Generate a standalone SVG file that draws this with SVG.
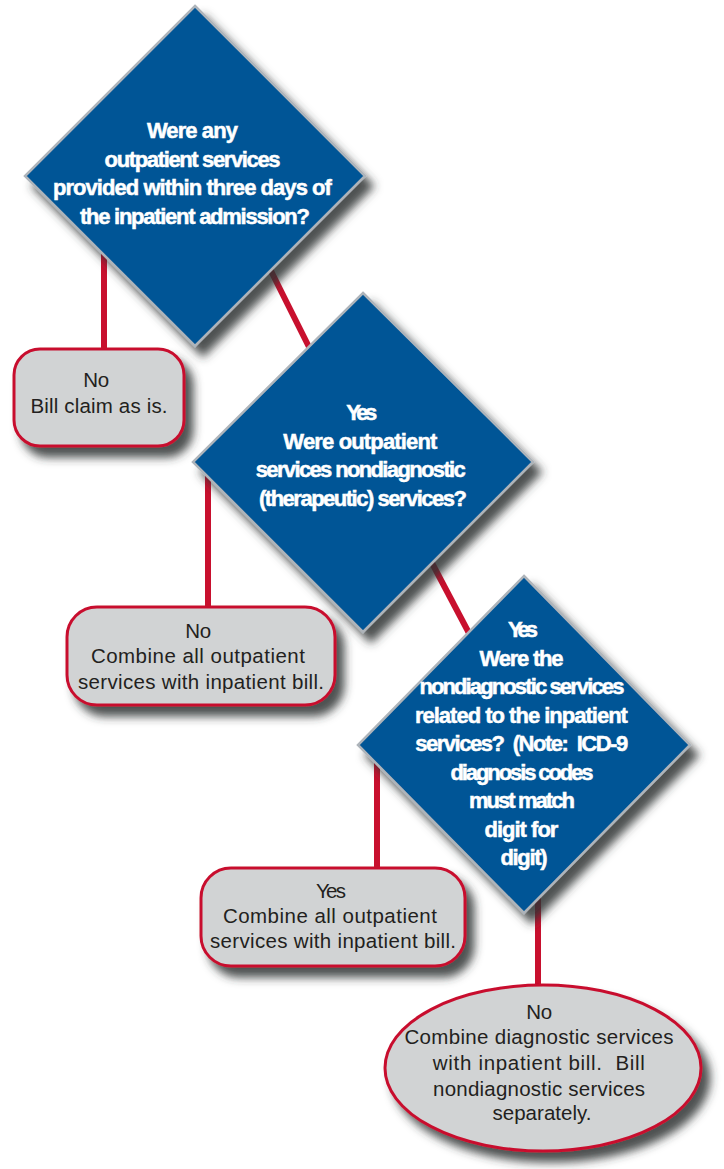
<svg xmlns="http://www.w3.org/2000/svg" width="724" height="1169" viewBox="0 0 724 1169">
<defs>
<filter id="sh" x="-20%" y="-20%" width="150%" height="150%">
<feDropShadow dx="8" dy="10" stdDeviation="5" flood-color="#2f3133" flood-opacity="0.85"/>
</filter>
<style>
.dia{fill:#005496;stroke:#aeb4ba;stroke-width:2.5;filter:url(#sh)}
.box{fill:#d1d3d4;stroke:#c8102e;stroke-width:3;filter:url(#sh)}
.con{stroke:#c8102e;stroke-width:6;fill:none}
.qt{font-family:"Liberation Sans Narrow","Liberation Sans",sans-serif;font-weight:bold;font-size:22px;fill:#ffffff;stroke:#ffffff;stroke-width:0.5;text-anchor:middle}
.at{font-family:"Liberation Sans","Noto Sans",sans-serif;font-size:20.5px;fill:#231f20;text-anchor:middle}
</style>
</defs>
<rect width="724" height="1169" fill="#ffffff"/>
<g id="connectors">
<path class="con" d="M104,250 V349"/>
<path class="con" d="M262,253 L318,365"/>
<path class="con" d="M208,470 V607"/>
<path class="con" d="M423,546 L480,654"/>
<path class="con" d="M377,755 V868"/>
<path class="con" d="M538,890 V985"/>
</g>
<g id="q1">
<polygon class="dia" points="195,6 365,176 195,346 25,176"/>
<text class="qt" lengthAdjust="spacingAndGlyphs">
<tspan x="195" y="138" textLength="91">Were any</tspan>
<tspan x="195" y="166.5" textLength="176">outpatient services</tspan>
<tspan x="195" y="195" textLength="279">provided within three days of</tspan>
<tspan x="195" y="223.5" textLength="230">the inpatient admission?</tspan>
</text>
</g>
<g id="a1">
<rect class="box" x="14" y="349" width="170" height="97" rx="26"/>
<text class="at">
<tspan x="99" y="387" textLength="26">No</tspan>
<tspan x="99" y="413" textLength="137">Bill claim as is.</tspan>
</text>
</g>
<g id="q2">
<polygon class="dia" points="363,293 533,462 363,632 193,462"/>
<text class="qt">
<tspan x="363" y="420" textLength="31">Yes</tspan>
<tspan x="363" y="448.5" textLength="154">Were outpatient</tspan>
<tspan x="363" y="477" textLength="210">services nondiagnostic</tspan>
<tspan x="363" y="505.5" textLength="208">(therapeutic) services?</tspan>
</text>
</g>
<g id="a2">
<rect class="box" x="67" y="607" width="268" height="98" rx="30"/>
<text class="at">
<tspan x="201" y="638" textLength="26">No</tspan>
<tspan x="201" y="663" textLength="214">Combine all outpatient</tspan>
<tspan x="201" y="689" textLength="246">services with inpatient bill.</tspan>
</text>
</g>
<g id="q3">
<polygon class="dia" points="524,576 690,745 524,913 358,745"/>
<text class="qt">
<tspan x="524" y="637" textLength="30">Yes</tspan>
<tspan x="524" y="665.5" textLength="84">Were the</tspan>
<tspan x="524" y="694" textLength="205">nondiagnostic services</tspan>
<tspan x="524" y="722.5" textLength="213">related to the inpatient</tspan>
<tspan x="524" y="751" textLength="213" xml:space="preserve">services?  (Note:  ICD-9</tspan>
<tspan x="524" y="779.5" textLength="143">diagnosis codes</tspan>
<tspan x="524" y="808" textLength="106">must match</tspan>
<tspan x="524" y="836.5" textLength="74">digit for</tspan>
<tspan x="524" y="865" textLength="47">digit)</tspan>
</text>
</g>
<g id="a3">
<rect class="box" x="201" y="868" width="264" height="98" rx="30"/>
<text class="at">
<tspan x="333" y="898" textLength="30">Yes</tspan>
<tspan x="333" y="923" textLength="214">Combine all outpatient</tspan>
<tspan x="333" y="948" textLength="246">services with inpatient bill.</tspan>
</text>
</g>
<g id="a4">
<ellipse class="box" cx="543" cy="1068" rx="158" ry="83"/>
<text class="at">
<tspan x="542" y="1019" textLength="26">No</tspan>
<tspan x="542" y="1044" textLength="269">Combine diagnostic services</tspan>
<tspan x="542" y="1070" textLength="212" xml:space="preserve">with inpatient bill.  Bill</tspan>
<tspan x="542" y="1096" textLength="212">nondiagnostic services</tspan>
<tspan x="542" y="1120" textLength="99">separately.</tspan>
</text>
</g>
</svg>
